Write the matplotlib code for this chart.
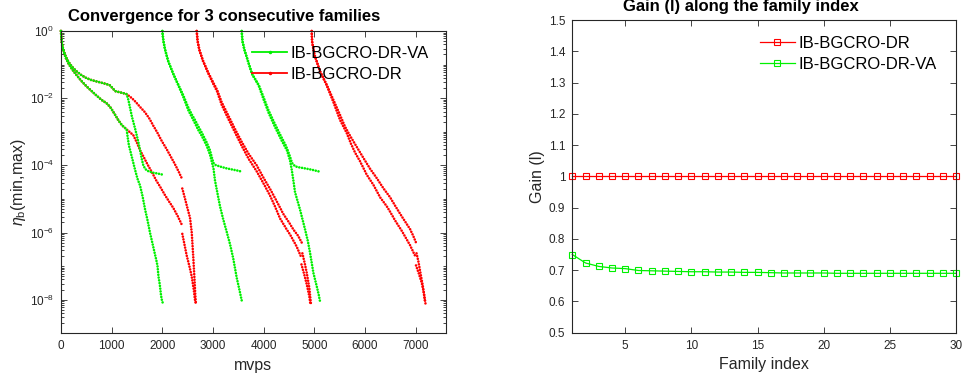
import numpy as np
import matplotlib
matplotlib.use('Agg')
import matplotlib.pyplot as plt
from matplotlib.lines import Line2D
from matplotlib.ticker import FixedLocator, LogLocator, NullFormatter, FuncFormatter, MultipleLocator

plt.rcParams['font.family'] = 'Liberation Sans'
plt.rcParams['mathtext.fontset'] = 'custom'
plt.rcParams['mathtext.rm'] = 'Liberation Sans'
plt.rcParams['mathtext.it'] = 'Liberation Sans:italic'

nan = np.nan
GREEN = '#00f000'
RED = '#ff0000'
INK = '#262626'

# ---- left panel: (mvps, log10 eta_b), nan = gap ----
shared_max = [(0, 0), (13, -0.28), (28, -0.45), (60, -0.62), (95, -0.76), (145, -0.91),
              (211, -1.05), (300, -1.19), (400, -1.31), (500, -1.40), (600, -1.46),
              (700, -1.50), (800, -1.54), (900, -1.58), (970, -1.62), (1030, -1.72),
              (1070, -1.79), (1150, -1.82), (1230, -1.85), (1296, -1.88)]
shared_min = [(0, 0), (13, -0.28), (28, -0.45), (60, -0.64), (95, -0.80), (145, -0.96),
              (211, -1.12), (300, -1.30), (400, -1.48), (500, -1.64), (600, -1.78),
              (700, -1.92), (800, -2.05), (900, -2.15), (970, -2.26), (1050, -2.45),
              (1130, -2.65), (1200, -2.80), (1296, -2.93)]

dr_f1_max = [(1296, -1.88), (1400, -2.00), (1480, -2.12), (1560, -2.26), (1658, -2.42),
             (1750, -2.62), (1822, -2.82), (1900, -3.02), (1987, -3.27), (2086, -3.52),
             (2170, -3.75), (2250, -3.97), (2320, -4.18), (2382, -4.38), (nan, nan),
             (2394, -4.69), (2440, -4.95), (2500, -5.30), (2546, -5.56), (2580, -6.00),
             (2611, -6.75), (2635, -7.40), (2650, -7.85), (2662, -8.12)]
dr_f1_min = [(1296, -2.93), (1350, -3.00), (1427, -3.10), (1500, -3.33), (1560, -3.55),
             (1625, -3.73), (1700, -3.95), (1800, -4.22), (1880, -4.45), (1954, -4.63),
             (2050, -4.88), (2130, -5.07), (2217, -5.27), (2300, -5.50), (2382, -5.76),
             (nan, nan), (2394, -6.04), (2440, -6.38), (2480, -6.68), (2530, -6.98),
             (2579, -7.30), (2620, -7.70), (2645, -8.02), (2668, -8.15)]
dr_f2_max = [(2678, 0), (2695, -0.29), (2730, -0.56), (2800, -0.88), (2900, -1.22),
             (3000, -1.52), (3080, -1.75), (3171, -2.12), (3303, -2.52), (3434, -2.92),
             (3566, -3.30), (3700, -3.65), (3862, -4.00), (4000, -4.38), (4125, -4.70),
             (4250, -5.05), (4388, -5.45), (4500, -5.70), (4585, -5.91), (4680, -6.10),
             (4750, -6.30), (nan, nan), (4763, -6.62), (4810, -6.92), (4849, -7.20),
             (4900, -7.65), (4930, -8.10)]
dr_f2_min = [(2678, 0), (2695, -0.29), (2730, -0.56), (2800, -0.88), (2900, -1.24),
             (3000, -1.56), (3080, -1.80), (3171, -2.20), (3303, -2.62), (3434, -3.02),
             (3566, -3.42), (3700, -3.80), (3862, -4.18), (4000, -4.55), (4125, -4.90),
             (4230, -5.25), (4322, -5.58), (4450, -5.90), (4520, -6.06), (4651, -6.42),
             (4730, -6.70), (nan, nan), (4745, -6.95), (4800, -7.25), (4850, -7.55),
             (4900, -7.90), (4922, -8.15)]
dr_f3_max = [(4947, 0), (4955, -0.32), (5000, -0.70), (5111, -1.20), (5243, -1.60),
             (5375, -2.05), (5506, -2.50), (5605, -2.85), (5704, -3.12), (5835, -3.45),
             (5967, -3.78), (6098, -4.10), (6230, -4.38), (6360, -4.68), (6493, -4.95),
             (6600, -5.22), (6724, -5.52), (6810, -5.72), (6888, -5.90), (6950, -6.10),
             (7010, -6.32), (nan, nan), (7015, -6.62), (7050, -6.85), (7080, -7.10),
             (7140, -7.60), (7185, -8.08)]
dr_f3_min = [(4947, 0), (4955, -0.32), (5000, -0.70), (5111, -1.20), (5243, -1.62),
             (5375, -2.12), (5506, -2.65), (5638, -3.04), (5720, -3.35), (5802, -3.62),
             (5901, -3.88), (6033, -4.28), (6164, -4.58), (6296, -4.95), (6428, -5.22),
             (6493, -5.38), (6600, -5.66), (6724, -5.95), (6888, -6.38), (6995, -6.72),
             (nan, nan), (7005, -6.98), (7060, -7.22), (7118, -7.50), (7160, -7.80),
             (7192, -8.12)]

va_f1_max = [(1296, -1.88), (1330, -2.05), (1362, -2.28), (1400, -2.55), (1430, -2.72),
             (1470, -2.95), (1526, -3.30), (1565, -3.58), (1600, -3.85), (1625, -4.00),
             (1660, -4.10), (1700, -4.16), (1760, -4.19), (1822, -4.22), (1900, -4.24),
             (1960, -4.26), (2015, -4.28)]
va_f1_min = [(1296, -2.95), (1315, -3.15), (1340, -3.40), (1370, -3.58), (1420, -3.88),
             (1460, -4.12), (1510, -4.40), (1560, -4.60), (1610, -4.92), (1658, -5.30),
             (1710, -5.65), (1756, -6.00), (1820, -6.42), (1870, -6.75), (1890, -6.88),
             (1905, -7.00), (1925, -7.32), (1950, -7.55), (1975, -7.88), (1995, -8.04),
             (2005, -8.08)]
va_f2_max = [(2000, 0), (2020, -0.29), (2055, -0.56), (2118, -0.91), (2217, -1.28),
             (2316, -1.60), (2415, -1.92), (2513, -2.28), (2580, -2.48), (2645, -2.65),
             (2710, -2.84), (2777, -3.02), (2876, -3.32), (2940, -3.55), (2980, -3.78),
             (3010, -3.93), (3050, -3.99), (3150, -4.04), (3270, -4.09), (3400, -4.13),
             (3500, -4.16), (3570, -4.19)]
va_f2_min = [(2000, 0), (2020, -0.29), (2055, -0.56), (2118, -0.91), (2217, -1.28),
             (2316, -1.62), (2415, -1.97), (2513, -2.36), (2580, -2.56), (2645, -2.75),
             (2710, -2.95), (2777, -3.12), (2876, -3.42), (2940, -3.68), (2985, -3.95),
             (3010, -4.10), (3039, -4.45), (3090, -4.85), (3138, -5.22), (3200, -5.60),
             (3270, -5.98), (3336, -6.35), (3400, -6.78), (3468, -7.35), (3520, -7.70),
             (3570, -8.05)]
va_f3_max = [(3566, 0), (3580, -0.30), (3620, -0.56), (3680, -0.85), (3770, -1.28),
             (3900, -1.60), (4000, -1.98), (4092, -2.35), (4200, -2.70), (4330, -3.10),
             (4440, -3.42), (4510, -3.70), (4560, -3.93), (4620, -4.03), (4700, -4.06),
             (4780, -4.08), (4950, -4.13), (5111, -4.19)]
va_f3_min = [(3566, 0), (3580, -0.30), (3620, -0.56), (3680, -0.85), (3770, -1.28),
             (3900, -1.62), (4000, -2.05), (4100, -2.45), (4220, -2.85), (4350, -3.25),
             (4460, -3.56), (4520, -3.86), (4553, -4.13), (4590, -4.50), (4618, -4.80),
             (4717, -5.32), (4816, -5.91), (4870, -6.25), (4914, -6.60), (4980, -7.20),
             (5046, -7.60), (5085, -7.85), (5111, -8.05)]

# ---- right panel: gain per family ----
families = list(range(1, 31))
gain_dr = [1.0] * 30
gain_va = [0.750, 0.723, 0.712, 0.707, 0.705, 0.699, 0.698, 0.697, 0.696, 0.695,
           0.695, 0.694, 0.694, 0.693, 0.693, 0.692, 0.691, 0.691, 0.691, 0.691,
           0.690, 0.690, 0.690, 0.690, 0.690, 0.690, 0.690, 0.690, 0.690, 0.690]

labels_left = ['IB-BGCRO-DR-VA', 'IB-BGCRO-DR']

fig = plt.figure(figsize=(9.63, 3.82), dpi=100)
ax1 = fig.add_axes([0.0633, 0.1275, 0.3995, 0.7913])
ax2 = fig.add_axes([0.5943, 0.129, 0.3984, 0.8186])


def dots(ax, pts, color):
    arr = np.array(pts, dtype=float)
    ax.plot(arr[:, 0], 10 ** arr[:, 1], color=color, lw=1.9,
            ls=(0, (0.01, 1.05)), dash_capstyle='round', clip_on=False)


for c in [shared_max + dr_f1_max[1:], shared_min + dr_f1_min[1:],
          dr_f2_max, dr_f2_min, dr_f3_max, dr_f3_min]:
    dots(ax1, c, RED)
for c in [shared_max + va_f1_max[1:], shared_min + va_f1_min[1:],
          va_f2_max, va_f2_min, va_f3_max, va_f3_min]:
    dots(ax1, c, GREEN)

ax1.set_yscale('log')
ax1.set_xlim(0, 7590)
ax1.set_ylim(1e-9, 1)
ax1.yaxis.set_major_locator(FixedLocator([1e-8, 1e-6, 1e-4, 1e-2, 1]))
ax1.yaxis.set_major_formatter(FuncFormatter(lambda v, p: r'$10^{%d}$' % round(np.log10(v))))
ax1.yaxis.set_minor_locator(LogLocator(base=10, subs=np.arange(1, 10), numticks=100))
ax1.yaxis.set_minor_formatter(NullFormatter())
ax1.xaxis.set_major_locator(MultipleLocator(1000))
ax1.set_xlabel('mvps', fontsize=11.5, color=INK, labelpad=4)
ax1.set_ylabel(r'$\eta_{\rm b}$(min,max)', fontsize=11.5, color=INK, labelpad=1)

h1 = [Line2D([], [], color=GREEN, lw=1.3, marker='.', ms=3),
      Line2D([], [], color=RED, lw=1.3, marker='.', ms=3)]
ax1.legend(h1, labels_left, loc='upper left', bbox_to_anchor=(0.497, 0.952),
           frameon=False, fontsize=12, handlelength=2.1, handletextpad=0.2,
           labelspacing=0.4, borderpad=0, borderaxespad=0, numpoints=1)

ax2.plot(families, gain_dr, color=RED, lw=0.9, marker='s', ms=4.2, mfc='none',
         mew=0.8, clip_on=False, label='IB-BGCRO-DR')
ax2.plot(families, gain_va, color=GREEN, lw=0.9, marker='s', ms=4.2, mfc='none',
         mew=0.8, clip_on=False, label='IB-BGCRO-DR-VA')
ax2.set_xlim(1, 30)
ax2.set_ylim(0.5, 1.5)
ax2.xaxis.set_major_locator(FixedLocator([5, 10, 15, 20, 25, 30]))
ax2.yaxis.set_major_locator(MultipleLocator(0.1))
ax2.yaxis.set_major_formatter(FuncFormatter(lambda v, p: '%g' % round(v, 2)))
ax2.set_xlabel('Family index', fontsize=11.5, color=INK, labelpad=4)
ax2.set_ylabel('Gain (l)', fontsize=11.5, color=INK, labelpad=3)
ax2.legend(loc='upper left', bbox_to_anchor=(0.489, 0.95), frameon=False, fontsize=12,
           handlelength=2.1, handletextpad=0.2, labelspacing=0.38, borderpad=0,
           borderaxespad=0, numpoints=1)

for ax in (ax1, ax2):
    for s in ax.spines.values():
        s.set_color(INK)
        s.set_linewidth(0.8)
    ax.tick_params(which='both', direction='in', top=True, right=True,
                   colors=INK, labelsize=8.5, width=0.6)
    ax.tick_params(which='major', length=4, pad=5)
    ax.tick_params(which='minor', length=2)
    ax.set_facecolor('white')

fig.text(224 / 963, 1 - 17 / 382, 'Convergence for 3 consecutive families',
         ha='center', va='center', fontsize=12, fontweight='bold')
fig.text(741 / 963, 1 - 7 / 382, 'Gain (l) along the family index',
         ha='center', va='center', fontsize=12, fontweight='bold')

fig.savefig('out.png', dpi=100)
